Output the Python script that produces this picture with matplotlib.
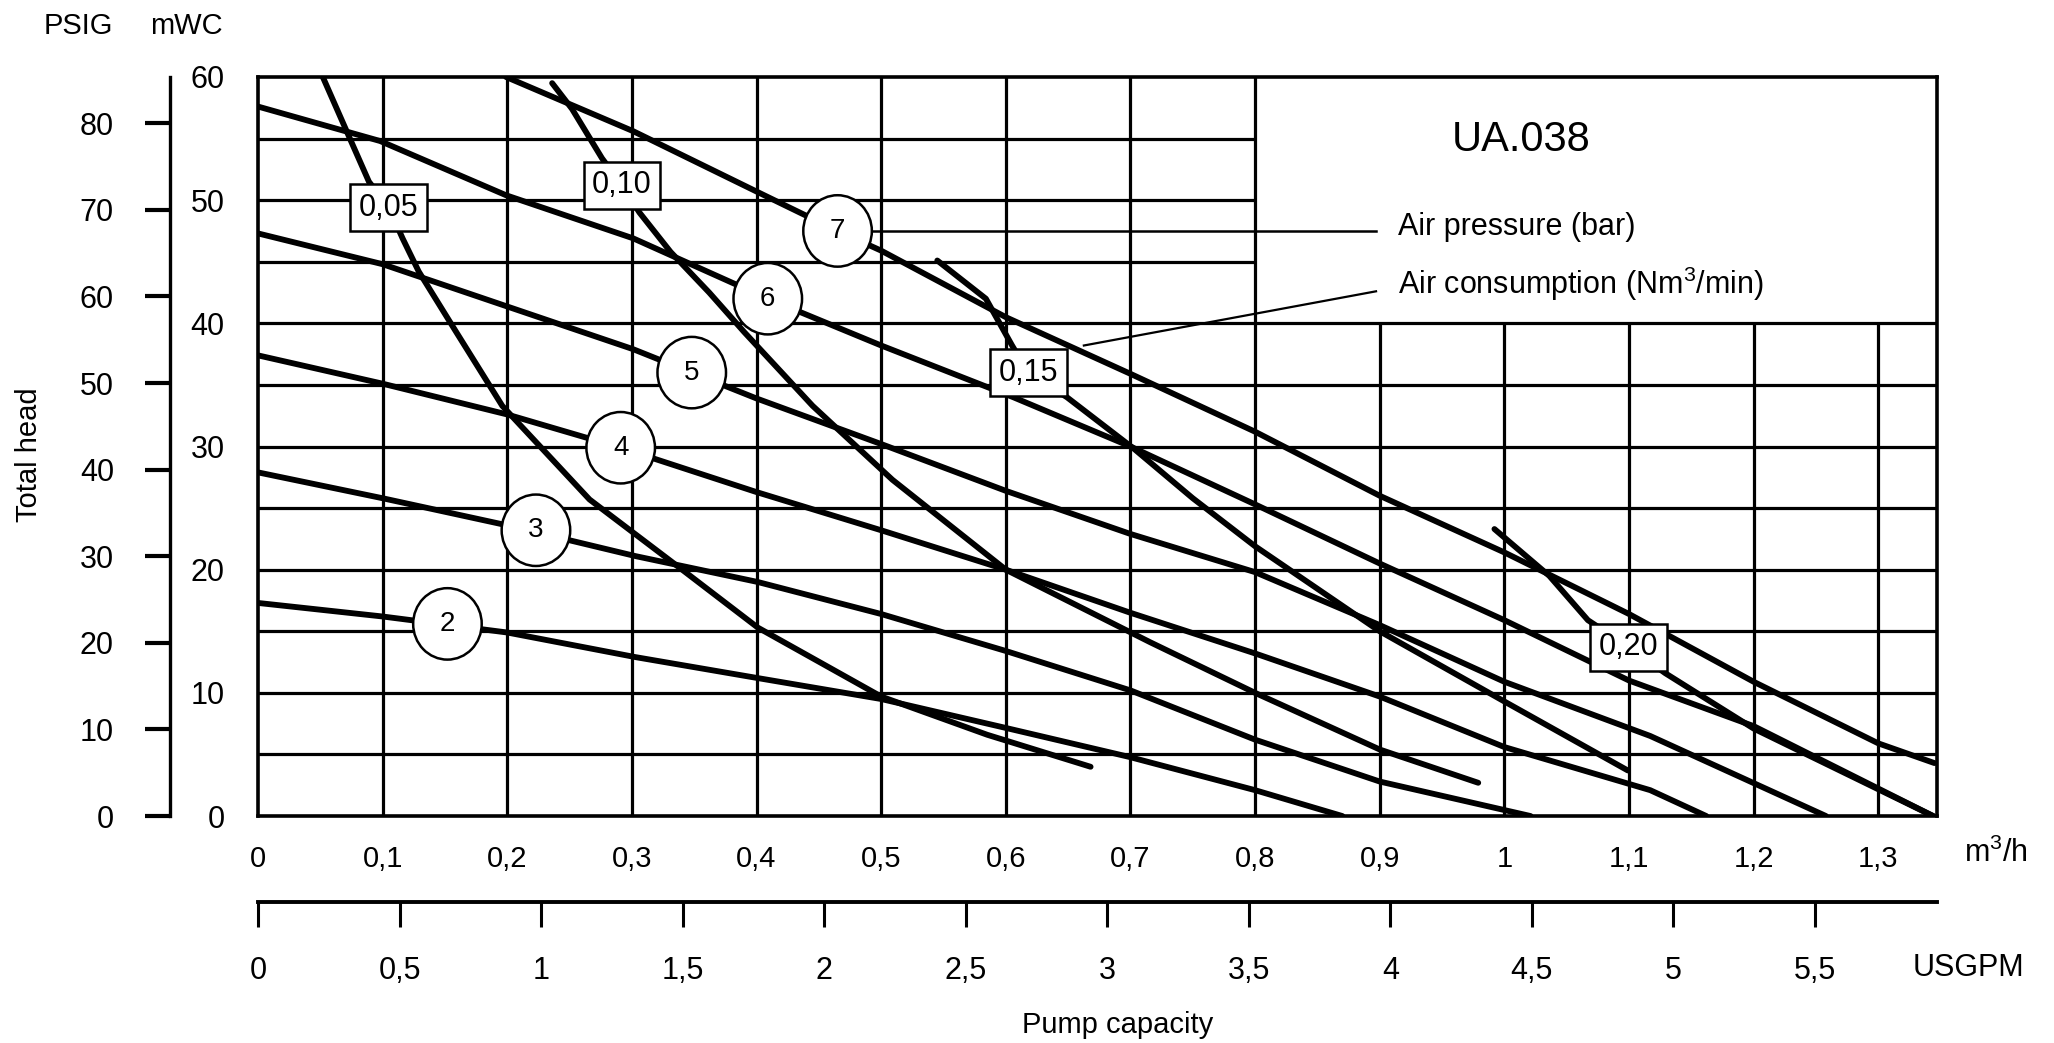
import numpy as np
import matplotlib
matplotlib.use("Agg")
import matplotlib.pyplot as plt
from matplotlib.patches import Ellipse

plt.rcParams['font.family'] = ['Liberation Sans', 'DejaVu Sans']
plt.rcParams['mathtext.default'] = 'regular'

# ---------------- data ----------------
# Air pressure curves (bar): capacity m3/h -> total head mWC
p2_x = [0, 0.1, 0.2, 0.303, 0.401, 0.5, 0.598, 0.699, 0.8, 0.870]
p2_y = [17.3, 16.2, 14.9, 12.9, 11.2, 9.5, 7.2, 4.8, 2.1, 0]
p3_x = [0, 0.1, 0.2, 0.303, 0.401, 0.5, 0.6, 0.7, 0.8, 0.9, 1.021]
p3_y = [27.9, 25.8, 23.6, 21.1, 19.0, 16.4, 13.4, 10.2, 6.2, 2.8, 0]
p4_x = [0, 0.1, 0.2, 0.291, 0.4, 0.5, 0.6, 0.7, 0.8, 0.9, 1.0, 1.117, 1.162]
p4_y = [37.4, 35.1, 32.6, 29.9, 26.3, 23.2, 20.0, 16.5, 13.2, 9.7, 5.6, 2.1, 0]
p5_x = [0, 0.1, 0.199, 0.301, 0.348, 0.4, 0.5, 0.6, 0.7, 0.8, 0.9, 1.0, 1.117, 1.258]
p5_y = [47.3, 44.8, 41.4, 37.9, 36.0, 33.9, 30.2, 26.4, 22.9, 19.8, 15.5, 10.9, 6.5, 0]
p6_x = [0, 0.098, 0.199, 0.301, 0.409, 0.5, 0.606, 0.7, 0.8, 0.9, 1.0, 1.1, 1.2, 1.344]
p6_y = [57.6, 54.8, 50.4, 46.9, 42.0, 38.2, 34.0, 30.0, 25.3, 20.5, 15.9, 11.0, 7.3, 0]
p7_x = [0.199, 0.301, 0.4, 0.465, 0.5, 0.6, 0.7, 0.8, 0.9, 1.0, 1.1, 1.2, 1.3, 1.345]
p7_y = [60.0, 55.6, 50.7, 47.5, 45.9, 40.5, 35.9, 31.2, 26.0, 21.4, 16.4, 10.9, 5.9, 4.3]

# Air consumption curves (Nm3/min)
c005_x = [0.052, 0.072, 0.089, 0.105, 0.116, 0.129, 0.159, 0.196, 0.266, 0.339, 0.401, 0.5, 0.585, 0.668]
c005_y = [60.0, 55.4, 51.5, 49.4, 46.9, 44.2, 39.3, 33.3, 25.7, 20.1, 15.3, 9.7, 6.6, 4.0]
c010_x = [0.236, 0.252, 0.276, 0.292, 0.306, 0.331, 0.362, 0.390, 0.445, 0.509, 0.6, 0.716, 0.8, 0.9, 0.979]
c010_y = [59.5, 57.4, 53.4, 51.2, 49.0, 45.8, 42.5, 39.3, 33.3, 27.3, 20.0, 14.1, 10.0, 5.4, 2.7]
c015_x = [0.545, 0.584, 0.605, 0.618, 0.649, 0.703, 0.75, 0.8, 0.9, 1.0, 1.099]
c015_y = [45.1, 42.0, 38.2, 36.0, 34.0, 29.8, 25.8, 21.9, 15.0, 9.3, 3.7]
c020_x = [0.992, 1.036, 1.067, 1.1, 1.129, 1.2, 1.344]
c020_y = [23.3, 19.5, 15.9, 13.7, 11.6, 7.1, 0]

pressure_names = ["2", "3", "4", "5", "6", "7"]
consumption_names = ["0,05", "0,10", "0,15", "0,20"]

# tick values / labels
x_ticks = [0, 0.1, 0.2, 0.3, 0.4, 0.5, 0.6, 0.7, 0.8, 0.9, 1.0, 1.1, 1.2, 1.3]
x_tick_labels = ["0", "0,1", "0,2", "0,3", "0,4", "0,5", "0,6", "0,7", "0,8", "0,9",
                 "1", "1,1", "1,2", "1,3"]
y_ticks = [0, 10, 20, 30, 40, 50, 60]
y_tick_labels = ["0", "10", "20", "30", "40", "50", "60"]
psig_ticks = [0, 10, 20, 30, 40, 50, 60, 70, 80]
psig_labels = ["0", "10", "20", "30", "40", "50", "60", "70", "80"]
usgpm_ticks = [0, 0.5, 1, 1.5, 2, 2.5, 3, 3.5, 4, 4.5, 5, 5.5]
usgpm_labels = ["0", "0,5", "1", "1,5", "2", "2,5", "3", "3,5", "4", "4,5", "5", "5,5"]

# grid layout (the upper-right block is a blank legend box)
grid_x_full = [0.1, 0.2, 0.3, 0.4, 0.5, 0.6, 0.7, 0.8]
grid_x_low = [0.9, 1.0, 1.1, 1.2, 1.3]
grid_y_full = [5, 10, 15, 20, 25, 30, 35, 40]
grid_y_left = [45, 50, 55]

# label anchor positions (annotation placement)
circle_pos = [(0.152, 15.6), (0.223, 23.2), (0.291, 29.9), (0.348, 36.0), (0.409, 42.0), (0.465, 47.5)]
box_pos = [(0.1047, 49.4), (0.292, 51.2), (0.618, 36.0), (1.0996, 13.7)]

PSI_TO_M = 0.70307
M3H_TO_USGPM = 4.40287
XMAX = 1.347

# ---------------- figure ----------------
fig = plt.figure(figsize=(20.54, 10.43), dpi=100)
ax = fig.add_axes([0.1256, 0.2176, 0.8174, 0.7086])
ax.set_xlim(0, XMAX)
ax.set_ylim(0, 60)

GRID_LW = 2.3
ax.vlines(grid_x_full, 0, 60, colors='black', lw=GRID_LW, zorder=1)
ax.vlines(grid_x_low, 0, 40, colors='black', lw=GRID_LW, zorder=1)
ax.hlines(grid_y_full, 0, XMAX, colors='black', lw=GRID_LW, zorder=1)
ax.hlines(grid_y_left, 0, 0.8, colors='black', lw=GRID_LW, zorder=1)

for s in ax.spines.values():
    s.set_linewidth(2.6)

CURVE_LW = 4.2
pressure_curves = [(p2_x, p2_y), (p3_x, p3_y), (p4_x, p4_y), (p5_x, p5_y), (p6_x, p6_y), (p7_x, p7_y)]
consumption_curves = [(c005_x, c005_y), (c010_x, c010_y), (c015_x, c015_y), (c020_x, c020_y)]
for xs, ys in pressure_curves + consumption_curves:
    ax.plot(xs, ys, color='black', lw=CURVE_LW, solid_capstyle='round',
            solid_joinstyle='round', zorder=2, clip_on=True)

# leader lines to legend text
ax.plot([0.4925, 0.897], [47.5, 47.5], color='black', lw=1.8, zorder=2)
ax.plot([0.6626, 0.897], [38.2, 42.6], color='black', lw=1.6, zorder=2)

# circled pressure labels
for (cx, cy), name in zip(circle_pos, pressure_names):
    ax.add_patch(Ellipse((cx, cy), width=0.055, height=5.8, facecolor='white',
                         edgecolor='black', lw=1.8, zorder=4))
    ax.text(cx, cy, name, ha='center', va='center', fontsize=20, zorder=5)

# boxed consumption labels
for (bx, by), name in zip(box_pos, consumption_names):
    ax.text(bx, by, name, ha='center', va='center', fontsize=22, zorder=5,
            bbox=dict(boxstyle='square,pad=0.28', facecolor='white',
                      edgecolor='black', lw=1.8))

# legend box text
ax.text(0.958, 54.0, "UA.038", ha='left', va='baseline', fontsize=30, zorder=5)
ax.text(0.915, 47.2, "Air pressure (bar)", ha='left', va='baseline', fontsize=22, zorder=5)
ax.text(0.915, 42.4, "Air consumption (Nm$^3$/min)", ha='left', va='baseline', fontsize=22, zorder=5)

# main axes ticks
ax.set_xticks(x_ticks)
ax.set_xticklabels(x_tick_labels, fontsize=21)
ax.set_yticks(y_ticks)
ax.set_yticklabels(y_tick_labels, fontsize=22)
ax.tick_params(axis='x', length=0, pad=21)
ax.tick_params(axis='y', length=0, pad=24)

# PSIG axis
sec_y = ax.secondary_yaxis(-0.0527, functions=(lambda m: m / PSI_TO_M, lambda p: p * PSI_TO_M))
sec_y.set_yticks(psig_ticks)
sec_y.set_yticklabels(psig_labels, fontsize=22)
sec_y.tick_params(axis='y', direction='out', length=18, width=3, pad=22)
sec_y.spines['left'].set_linewidth(2.4)

# USGPM axis
sec_x = ax.secondary_xaxis(-0.116, functions=(lambda q: q * M3H_TO_USGPM, lambda g: g / M3H_TO_USGPM))
sec_x.set_xticks(usgpm_ticks)
sec_x.set_xticklabels(usgpm_labels, fontsize=22)
sec_x.tick_params(axis='x', direction='out', length=18, width=2.2, pad=21)
sec_x.spines['bottom'].set_linewidth(2.8)

# outer labels
fig.text(0.038, 0.975, "PSIG", ha='center', va='center', fontsize=21)
fig.text(0.0906, 0.975, "mWC", ha='center', va='center', fontsize=21)
fig.text(0.0141, 0.564, "Total head", rotation=90, ha='center', va='center', fontsize=21)
fig.text(0.544, 0.017, "Pump capacity", ha='center', va='center', fontsize=21)
fig.text(0.9717, 0.182, "m$^3$/h", ha='center', va='center', fontsize=22)
fig.text(0.9585, 0.0719, "USGPM", ha='center', va='center', fontsize=22)

fig.savefig("out.png", dpi=100, facecolor='white')
